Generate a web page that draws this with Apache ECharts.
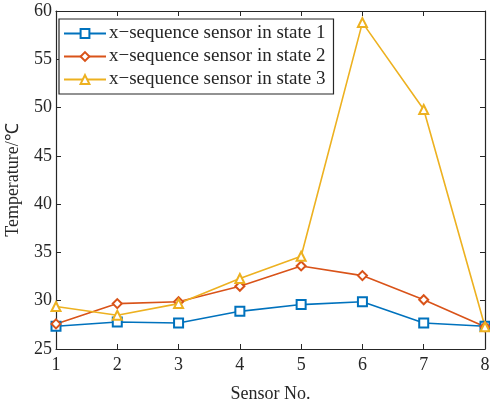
<!DOCTYPE html>
<html>
<head>
<meta charset="utf-8">
<script src="https://cdn.jsdelivr.net/npm/echarts@6/dist/echarts.min.js"></script>
<style>
  html, body { margin: 0; padding: 0; background: #fff; }
  #main { width: 490px; height: 408px; }
</style>
</head>
<body>
<div id="main"></div>
<script>
// sensor numbers
const sensors = [1, 2, 3, 4, 5, 6, 7, 8]
const state1 = [27.35, 27.8, 27.7, 28.9, 29.6, 29.9, 27.7, 27.35]
const state2 = [27.6, 29.7, 29.9, 31.5, 33.6, 32.6, 30.1, 27.3]
const state3 = [29.4, 28.5, 29.7, 32.3, 34.6, 58.8, 49.8, 27.3]
const names = ["x\u2212sequence sensor in state 1", "x\u2212sequence sensor in state 2", "x\u2212sequence sensor in state 3"]

let chart = echarts.init(document.getElementById("main"))

const font = "Liberation Serif"
const axisLine = { lineStyle: { color: "#262626", width: 1.2 } }
const tick = { inside: true, length: 5, lineStyle: { color: "#262626" } }

function pts(arr) {
  return sensors.map((s, i) => [s, arr[i]])
}

function line(name, data, color, symbol) {
  return {
    name: name,
    type: "line",
    data: pts(data),
    symbol: symbol,
    symbolSize: 9,
    lineStyle: { color: color, width: 1.6 },
    itemStyle: { color: color, borderColor: color, borderWidth: 1.4 },
    emphasis: { disabled: true }
  }
}

chart.setOption({
  animation: false,
  grid: { left: 56, right: 5, top: 11, bottom: 59, outerBoundsMode: "none" },
  legend: {
    left: 59,
    top: 19,
    orient: "vertical",
    backgroundColor: "#fff",
    borderColor: "#262626",
    borderWidth: 1.2,
    padding: [5, 8, 5, 4],
    itemGap: 4,
    itemWidth: 42,
    itemHeight: 11,
    textStyle: { fontFamily: font, fontSize: 19, color: "#262626", padding: [0, 0, 0, -2] },
    data: names
  },
  xAxis: [
    {
      type: "value",
      min: 1, max: 8, interval: 1,
      name: "Sensor No.",
      nameLocation: "middle",
      nameGap: 36,
      nameTextStyle: { fontFamily: font, fontSize: 18, color: "#262626" },
      axisLine: axisLine,
      axisTick: tick,
      axisLabel: { fontFamily: font, fontSize: 18, color: "#262626", margin: 7 },
      splitLine: { show: false }
    },
    {
      type: "value", position: "top",
      min: 1, max: 8, interval: 1,
      axisLine: axisLine,
      axisTick: tick,
      axisLabel: { show: false },
      splitLine: { show: false }
    }
  ],
  yAxis: [
    {
      type: "value",
      min: 25, max: 60, interval: 5,
      name: "Temperature/\u2103",
      nameLocation: "middle",
      nameGap: 34,
      nameTextStyle: { fontFamily: font, fontSize: 18, color: "#262626" },
      axisLine: axisLine,
      axisTick: tick,
      axisLabel: { fontFamily: font, fontSize: 18, color: "#262626", margin: 4 },
      splitLine: { show: false }
    },
    {
      type: "value", position: "right",
      min: 25, max: 60, interval: 5,
      axisLine: axisLine,
      axisTick: tick,
      axisLabel: { show: false },
      splitLine: { show: false }
    }
  ],
  series: [
    line(names[0], state1, "#0072BD", "emptyRect"),
    line(names[1], state2, "#D95319", "emptyDiamond"),
    line(names[2], state3, "#EDB120", "emptyTriangle")
  ]
})
</script>
</body>
</html>
